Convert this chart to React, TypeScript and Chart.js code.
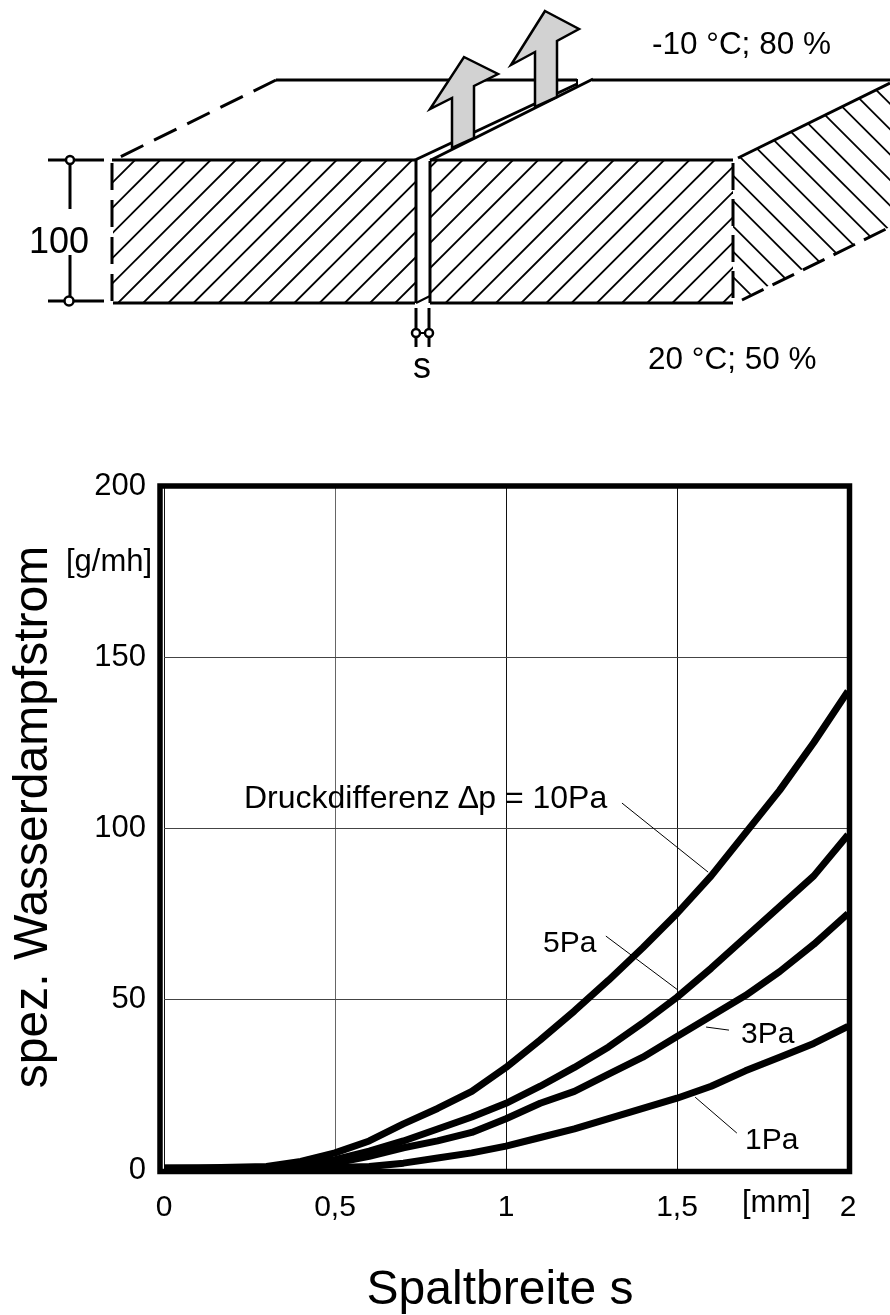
import React, { useEffect, useRef } from "react";
import { Chart, registerables } from "chart.js";

Chart.register(...registerables);

const FONT = '"Liberation Sans", Arial, sans-serif';

const gapWidths = [0, 0.1, 0.2, 0.3, 0.4, 0.5, 0.6, 0.7, 0.8, 0.9, 1.0, 1.1, 1.2, 1.3, 1.4, 1.5, 1.6, 1.7, 1.8, 1.9, 2.0];
const flow10Pa = [0.5, 0.6, 0.8, 1, 2.5, 5, 8.5, 13.5, 18, 23, 30, 38, 46.5, 55.5, 65, 75, 86, 98.5, 111, 125, 140];
const flow5Pa = [0.5, 0.5, 0.5, 0.6, 1.5, 3, 5.5, 8.5, 12, 15.5, 19.5, 24.5, 30, 36, 43, 50.5, 59, 68, 77, 86, 98];
const flow3Pa = [0.5, 0.5, 0.5, 0.5, 1, 2, 4, 6.5, 8.5, 11, 15, 19.5, 23, 28, 33, 39, 45, 51, 58, 66, 75];
const flow1Pa = [0.5, 0.5, 0.5, 0.5, 0.5, 0.7, 1, 2, 3.5, 5, 7, 9.5, 12, 15, 18, 21, 24.5, 29, 33, 37, 42];

const leader10Pa = [{ x: 1.339, y: 107.3 }, { x: 1.591, y: 87.1 }];
const leader5Pa = [{ x: 1.292, y: 68.4 }, { x: 1.503, y: 52.6 }];
const leader3Pa = [{ x: 1.585, y: 41.8 }, { x: 1.652, y: 40.9 }];
const leader1Pa = [{ x: 1.553, y: 21.3 }, { x: 1.675, y: 10.8 }];

const xTicks = [0, 0.5, 1, 1.5, 2];
const yTicks = [0, 50, 100, 150, 200];

type Pt = [number, number];

function poly(ctx: CanvasRenderingContext2D, pts: Pt[], close = false) {
  ctx.beginPath();
  pts.forEach((p, i) => (i ? ctx.lineTo(p[0], p[1]) : ctx.moveTo(p[0], p[1])));
  if (close) ctx.closePath();
}

function line(ctx: CanvasRenderingContext2D, a: Pt, b: Pt, w: number, dash: number[] = []) {
  ctx.save();
  ctx.lineWidth = w;
  ctx.setLineDash(dash);
  poly(ctx, [a, b]);
  ctx.stroke();
  ctx.restore();
}

function ring(ctx: CanvasRenderingContext2D, x: number, y: number, r: number) {
  ctx.beginPath();
  ctx.arc(x, y, r, 0, Math.PI * 2);
  ctx.fillStyle = "#fff";
  ctx.fill();
  ctx.lineWidth = 2.5;
  ctx.stroke();
}

function text(ctx: CanvasRenderingContext2D, s: string, x: number, y: number, size: number, align: CanvasTextAlign = "left") {
  ctx.font = `${size}px ${FONT}`;
  ctx.fillStyle = "#000";
  ctx.textAlign = align;
  ctx.textBaseline = "alphabetic";
  ctx.fillText(s, x, y);
}

function drawDiagram(ctx: CanvasRenderingContext2D) {
  ctx.save();
  ctx.strokeStyle = "#000";
  ctx.lineCap = "butt";

  // front face hatching
  ctx.save();
  ctx.beginPath();
  ctx.rect(113, 160, 302, 143);
  ctx.rect(430, 160, 303, 143);
  ctx.clip();
  ctx.lineWidth = 1.8;
  for (let k = -6; k < 25; k++) {
    const bx = 118 + 25.2 * k;
    poly(ctx, [[bx, 303], [bx + 143, 160]]);
    ctx.stroke();
  }
  ctx.restore();

  // side face hatching
  ctx.save();
  poly(ctx, [[733, 160], [890, 83], [890, 227], [733, 303]], true);
  ctx.clip();
  ctx.lineWidth = 1.8;
  for (let k = 0; k < 15; k++) {
    const d = 456 + 25.4 * k;
    poly(ctx, [[d + 60, 60], [d + 320, 320]]);
    ctx.stroke();
  }
  ctx.restore();

  // outlines
  line(ctx, [112, 160], [415, 160], 3);
  line(ctx, [430, 160], [733, 160], 3);
  line(ctx, [113, 303], [415, 303], 3);
  line(ctx, [430, 303], [733, 303], 3);
  line(ctx, [112, 163], [112, 303], 3, [27, 10]);
  line(ctx, [733, 163], [733, 303], 3, [27, 9]);
  line(ctx, [416, 160], [416, 303], 3);
  line(ctx, [430, 161], [430, 303], 3);
  line(ctx, [416, 303], [430, 296], 2);
  line(ctx, [276, 80], [118, 158], 3, [25, 12]);
  line(ctx, [276, 80], [577, 80], 3);
  line(ctx, [592, 80], [890, 80], 3);
  line(ctx, [415, 160], [577, 84], 3);
  line(ctx, [430, 160.5], [593, 79], 3);
  line(ctx, [577, 79], [577, 88], 2);
  line(ctx, [738, 158], [890, 83], 3);
  line(ctx, [742, 300], [890, 227], 3, [24, 10]);

  // vapour arrows
  const arrows: Pt[][] = [
    [[545, 11], [579, 29], [557, 41], [557, 97], [535, 107], [535, 52], [511, 65]],
    [[464, 57], [498, 74], [474, 86], [474, 138], [452, 148], [452, 98], [430, 109]],
  ];
  arrows.forEach((pts) => {
    poly(ctx, pts, true);
    ctx.fillStyle = "#d2d2d2";
    ctx.fill();
    ctx.lineWidth = 2.5;
    ctx.lineJoin = "miter";
    ctx.stroke();
  });

  // dimension 100
  line(ctx, [48, 160], [104, 160], 3);
  line(ctx, [48, 301], [104, 301], 3);
  line(ctx, [70, 160], [70, 209], 3);
  line(ctx, [70, 255], [70, 301], 3);
  ring(ctx, 70, 160, 4);
  ring(ctx, 69, 301, 4.5);
  text(ctx, "100", 59, 253, 36, "center");

  // dimension s
  line(ctx, [416, 308], [416, 347], 3);
  line(ctx, [429, 308], [429, 347], 3);
  line(ctx, [416, 333], [429, 333], 2);
  ring(ctx, 416, 333, 4);
  ring(ctx, 429, 333, 4);
  text(ctx, "s", 422, 378, 36, "center");

  text(ctx, "-10 °C; 80 %", 652, 54, 31.5);
  text(ctx, "20 °C; 50 %", 648, 369, 31.5);
  ctx.restore();
}

const overlayPlugin = {
  id: "overlay",
  afterDatasetsDraw(chart: any) {
    const ctx: CanvasRenderingContext2D = chart.ctx;
    ctx.save();
    ctx.strokeStyle = "#000";
    ctx.lineWidth = 5.5;
    ctx.strokeRect(160, 486, 689.5, 685.5);

    text(ctx, "Druckdifferenz \u2206p = 10Pa", 244, 808, 32);
    text(ctx, "5Pa", 543, 952, 30);
    text(ctx, "3Pa", 741, 1043, 30);
    text(ctx, "1Pa", 745, 1149, 30);
    text(ctx, "[g/mh]", 66, 571, 31);
    text(ctx, "[mm]", 742, 1212, 31);
    text(ctx, "Spaltbreite s", 500, 1304, 48, "center");

    ctx.save();
    ctx.translate(47, 817);
    ctx.rotate(-Math.PI / 2);
    text(ctx, "spez. Wasserdampfstrom", 0, 0, 48, "center");
    ctx.restore();

    drawDiagram(ctx);
    ctx.restore();
  },
};

function curve(label: string, values: number[], width: number) {
  return {
    label,
    data: gapWidths.map((x, i) => ({ x, y: values[i] })),
    borderColor: "#000",
    borderWidth: width,
    pointRadius: 0,
    tension: 0,
    borderJoinStyle: "round" as const,
  };
}

function leader(label: string, data: { x: number; y: number }[]) {
  return { label, data, borderColor: "#000", borderWidth: 1, pointRadius: 0, tension: 0 };
}

export default function App() {
  const ref = useRef<HTMLCanvasElement>(null);
  useEffect(() => {
    const chart = new Chart(ref.current!, {
      type: "line",
      data: {
        datasets: [
          curve("10Pa", flow10Pa, 7),
          curve("5Pa", flow5Pa, 7),
          curve("3Pa", flow3Pa, 7),
          curve("1Pa", flow1Pa, 7),
          leader("leader 10Pa", leader10Pa),
          leader("leader 5Pa", leader5Pa),
          leader("leader 3Pa", leader3Pa),
          leader("leader 1Pa", leader1Pa),
        ],
      },
      options: {
        animation: false,
        responsive: false,
        layout: { padding: { left: 0, right: 42, top: 486, bottom: 0 } },
        plugins: { legend: { display: false }, tooltip: { enabled: false } },
        scales: {
          x: {
            type: "linear",
            min: 0,
            max: 2,
            afterFit: (s: any) => { s.height = 145; },
            afterBuildTicks: (s: any) => { s.ticks = xTicks.map((value) => ({ value })); },
            grid: {
              color: (c: any) => (c.tick && c.tick.value === 0.5 ? "#666" : "#111"),
              lineWidth: 1,
              drawTicks: false,
            },
            border: { display: false },
            ticks: {
              font: { family: FONT, size: 30 },
              color: "#000",
              padding: 20,
              maxRotation: 0,
              autoSkip: false,
              callback: (v: any) => String(v).replace(".", ","),
            },
          },
          y: {
            type: "linear",
            min: 0,
            max: 200,
            afterFit: (s: any) => { s.width = 164; },
            afterBuildTicks: (s: any) => { s.ticks = yTicks.map((value) => ({ value })); },
            grid: { color: "#444", lineWidth: 1, drawTicks: false },
            border: { display: false },
            ticks: { font: { family: FONT, size: 31 }, color: "#000", padding: 18 },
          },
        },
      },
      plugins: [overlayPlugin],
    } as any);
    return () => chart.destroy();
  }, []);
  return (
    <canvas
      ref={ref}
      width={890}
      height={1315}
      style={{ position: "absolute", left: 0, top: 0, display: "block", width: 890, height: 1315 }}
    />
  );
}
